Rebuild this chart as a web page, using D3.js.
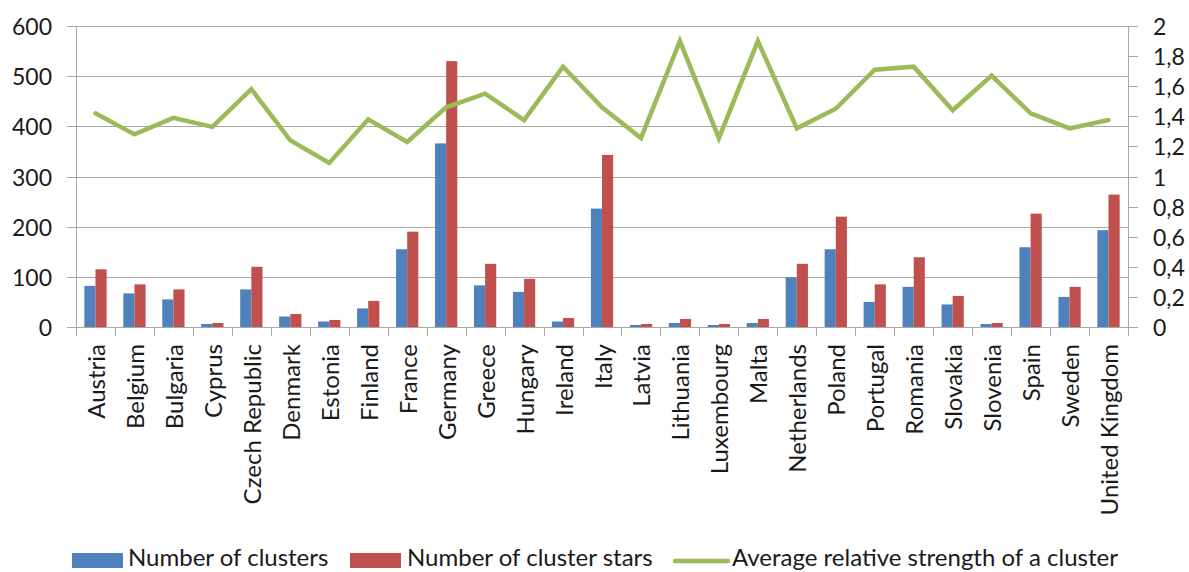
<!DOCTYPE html>
<html>
<head>
<meta charset="utf-8">
<script src="https://cdn.jsdelivr.net/npm/d3@7/dist/d3.min.js"></script>
<style>
  html, body { margin: 0; padding: 0; background: #fff; }
  svg { display: block; }
  text { font-family: Lato, "Open Sans", sans-serif; fill: #1a1a1a; }
</style>
</head>
<body>
<svg id="chart" width="1189" height="572"></svg>
<script>
const countries = ["Austria","Belgium","Bulgaria","Cyprus","Czech Republic","Denmark","Estonia","Finland","France","Germany","Greece","Hungary","Ireland","Italy","Latvia","Lithuania","Luxembourg","Malta","Netherlands","Poland","Portugal","Romania","Slovakia","Slovenia","Spain","Sweden","United Kingdom"];
const clusters = [82,67,55,6,75,21,11,37,155,366,83,70,11,236,4,8,4,8,99,155,50,80,45,6,159,60,193];
const clusterStars = [115,85,75,8,120,26,14,52,190,530,126,96,18,343,6,16,6,16,126,220,85,139,62,8,226,80,264];
const avgStrength = [1.42,1.28,1.39,1.33,1.58,1.24,1.09,1.38,1.23,1.46,1.55,1.375,1.73,1.46,1.255,1.90,1.255,1.90,1.32,1.45,1.71,1.73,1.44,1.67,1.42,1.32,1.375];
const leftTicks = [0,100,200,300,400,500,600];
const rightTicks = [0,0.2,0.4,0.6,0.8,1,1.2,1.4,1.6,1.8,2];
const seriesNames = ["Number of clusters","Number of cluster stars","Average relative strength of a cluster"];
const colors = ["#4F81BD","#C0504D","#9BBB59"];

const svg = d3.select("#chart");
const L = 76, R = 1128, T = 26, B = 327;
const gridColor = "#a8a8a8";

const x = d3.scaleBand().domain(countries).range([L, R]).paddingInner(0).paddingOuter(0);
const xs = d3.scaleBand().domain([0,1]).range([0, x.bandwidth()]).paddingInner(0).paddingOuter(0.75);
const yL = d3.scaleLinear().domain([0,600]).range([B, T]);
const yR = d3.scaleLinear().domain([0,2]).range([B, T]);

// gridlines + left ticks
svg.append("g").selectAll("line").data(leftTicks).join("line")
  .attr("x1", L - 9).attr("x2", R)
  .attr("y1", d => Math.round(yL(d)) + 0.5).attr("y2", d => Math.round(yL(d)) + 0.5)
  .attr("stroke", gridColor).attr("stroke-width", 1);

// left axis line
svg.append("line").attr("x1", L + 0.5).attr("x2", L + 0.5).attr("y1", T).attr("y2", B + 9)
  .attr("stroke", gridColor);
// right axis line
svg.append("line").attr("x1", R + 0.5).attr("x2", R + 0.5).attr("y1", T).attr("y2", B + 9)
  .attr("stroke", gridColor);
// right ticks
svg.append("g").selectAll("line").data(rightTicks).join("line")
  .attr("x1", R).attr("x2", R + 10)
  .attr("y1", d => Math.round(yR(d)) + 0.5).attr("y2", d => Math.round(yR(d)) + 0.5)
  .attr("stroke", gridColor);
// category ticks
const bounds = countries.map(c => x(c)).concat([R]);
svg.append("g").selectAll("line").data(bounds).join("line")
  .attr("x1", d => Math.round(d) + 0.5).attr("x2", d => Math.round(d) + 0.5)
  .attr("y1", B).attr("y2", B + 9)
  .attr("stroke", gridColor);

// left labels
svg.append("g").selectAll("text").data(leftTicks).join("text")
  .attr("x", 52).attr("y", d => yL(d))
  .attr("text-anchor", "end").attr("dominant-baseline", "central")
  .attr("font-size", 23).text(d => d);
// right labels
const fmt = d => String(d).replace(".", ",");
svg.append("g").selectAll("text").data(rightTicks).join("text")
  .attr("x", 1153).attr("y", d => yR(d))
  .attr("text-anchor", "start").attr("dominant-baseline", "central")
  .attr("font-size", 23).text(fmt);

// bars
const series = [clusters, clusterStars];
series.forEach((vals, si) => {
  svg.append("g").selectAll("rect").data(countries).join("rect")
    .attr("x", (c) => x(c) + xs(si))
    .attr("width", xs.bandwidth())
    .attr("y", (c, i) => yL(vals[i]))
    .attr("height", (c, i) => B - yL(vals[i]))
    .attr("fill", colors[si]);
});

// line
const line = d3.line().x((d, i) => x(countries[i]) + x.bandwidth() / 2).y(d => yR(d));
svg.append("path").datum(avgStrength)
  .attr("d", line).attr("fill", "none")
  .attr("stroke", colors[2]).attr("stroke-width", 4.5)
  .attr("stroke-linejoin", "miter").attr("stroke-linecap", "round");

// category labels
svg.append("g").selectAll("text").data(countries).join("text")
  .attr("transform", c => `translate(${x(c) + x.bandwidth() / 2},344) rotate(-90)`)
  .attr("text-anchor", "end").attr("dominant-baseline", "central")
  .attr("font-size", 24).text(c => c);

// legend
const lg = svg.append("g");
const legendItems = [
  {name: seriesNames[0], color: colors[0], type: "rect", sx: 72, tx: 128},
  {name: seriesNames[1], color: colors[1], type: "rect", sx: 350, tx: 407},
  {name: seriesNames[2], color: colors[2], type: "line", sx: 675, tx: 732}
];
legendItems.forEach(it => {
  if (it.type === "rect") {
    lg.append("rect").attr("x", it.sx).attr("y", 553).attr("width", 51).attr("height", 15).attr("fill", it.color);
  } else {
    lg.append("line").attr("x1", it.sx).attr("x2", it.sx + 53).attr("y1", 561).attr("y2", 561)
      .attr("stroke", it.color).attr("stroke-width", 4.5).attr("stroke-linecap", "round");
  }
  lg.append("text").attr("x", it.tx).attr("y", 566)
    .attr("font-size", 24).text(it.name);
});
</script>
</body>
</html>
